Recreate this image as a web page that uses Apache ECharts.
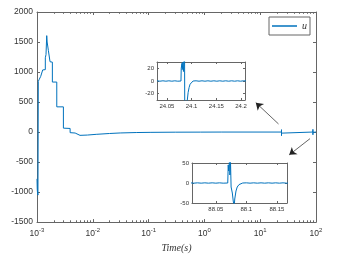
<!DOCTYPE html>
<html><head><meta charset="utf-8">
<script src="https://cdn.jsdelivr.net/npm/echarts@6/dist/echarts.min.js"></script>
<style>html,body{margin:0;padding:0;background:#fff}#c{width:343px;height:258px}</style>
</head><body><div id="c"></div>
<script>
// ---- data ----
const earlyT = [0.001, 0.00101, 0.00102, 0.00104, 0.001055, 0.00110, 0.001165, 0.00125, 0.001266, 0.00141, 0.00141, 0.00145, 0.001494, 0.00152, 0.001597, 0.00165, 0.001713, 0.001885, 0.001885, 0.002261, 0.002261, 0.002972, 0.002972, 0.003922, 0.003922, 0.004826, 0.005176, 0.0059];
const earlyU = [-780, -950, -1000, -1050, 845, 880, 927, 930, 1035, 1040, 1237, 1290, 1606, 1500, 1361, 1350, 1171, 1165, 833, 833, 420, 420, 65, 60, -10, -16, -44, -55];
const tailT = [0.008, 0.0115, 0.02, 0.031, 0.06, 0.11, 0.3, 0.86, 2, 24.0];
const tailU = [-50, -38, -24, -15, -8, -5, -2, -1, 0, 0];
const in1T = [24.030, 24.036, 24.042, 24.048, 24.054, 24.060, 24.066, 24.072, 24.0785, 24.079, 24.0805, 24.081, 24.0825, 24.0835, 24.085, 24.0857, 24.0862, 24.088, 24.091, 24.093, 24.095, 24.097, 24.100, 24.103, 24.109, 24.115, 24.121, 24.127, 24.133, 24.139, 24.145, 24.151, 24.157, 24.163, 24.169, 24.175, 24.181, 24.187, 24.193, 24.199, 24.205, 24.211];
const in1U = [0.3, -0.3, 0.3, -0.3, 0.3, -0.3, 0.3, -0.3, 0, 20, 28, 18, 30, 15, 40, 60, -60, -50, -32, -18, -10, -5, -2, 0, 0.3, -0.3, 0.3, -0.3, 0.3, -0.3, 0.3, -0.3, 0.3, -0.3, 0.3, -0.3, 0.3, -0.3, 0.3, -0.3, 0.3, 0];
const in2T = [88.008, 88.014, 88.020, 88.026, 88.032, 88.038, 88.044, 88.050, 88.056, 88.062, 88.0695, 88.0703, 88.071, 88.0725, 88.073, 88.074, 88.0745, 88.075, 88.077, 88.0785, 88.080, 88.081, 88.083, 88.085, 88.088, 88.091, 88.094, 88.100, 88.106, 88.112, 88.118, 88.124, 88.130, 88.136, 88.142, 88.148, 88.154, 88.160, 88.166, 88.170];
const in2U = [0.4, -0.4, 0.4, -0.4, 0.4, -0.4, 0.4, -0.4, 0.4, -0.4, 0, 45, 30, 60, 20, 55, 60, -10, -25, -45, -60, -40, -20, -10, -4, -1, 0, 0.4, -0.4, 0.4, -0.4, 0.4, -0.4, 0.4, -0.4, 0.4, -0.4, 0.4, -0.4, 0];
const endT = [100];
const endU = [0];

const mainXTickExps = [-3, -2, -1, 0, 1, 2];
const mainYTicks = [-1500, -1000, -500, 0, 500, 1000, 1500, 2000];
const in1XTicks = [24.05, 24.1, 24.15, 24.2];
const in1YTicks = [-20, 0, 20];
const in2XTicks = [88.05, 88.1, 88.15];
const in2YTicks = [-50, 0, 50];
// arrows [fromT, fromU, toT, toU]
const arrows = [[21.3, 135, 8.34, 490], [78, -110, 33.1, -380]];

// ---- build ----
function zip(t, u) { return t.map((v, i) => [v, u[i]]); }
const mainData = [].concat(zip(earlyT, earlyU), zip(tailT, tailU), zip(in1T, in1U), zip(in2T, in2U), zip(endT, endU));
const in1Data = zip(in1T, in1U);
const in2Data = zip(in2T, in2U);

const decades = mainXTickExps.map(e => Math.pow(10, e));
const minors = [];
for (let i = 0; i < mainXTickExps.length - 1; i++) {
  for (let k = 2; k <= 9; k++) minors.push(k * Math.pow(10, mainXTickExps[i]));
}

const AX = '#666';
const LBL = '#333';
const FONT = 'Liberation Sans, Arial, sans-serif';
const plain = v => String(v);

function xAx(o) {
  return Object.assign({
    splitLine: { show: false },
    axisLine: { onZero: false, lineStyle: { color: AX, width: 1 } },
    axisTick: { inside: true, length: 3, lineStyle: { color: AX, width: 1 } },
    axisLabel: { show: false }
  }, o);
}

const xAxis = [
  xAx({ type: 'log', gridIndex: 0, position: 'bottom', min: 0.001, max: 100,
    axisTick: { inside: true, length: 3, customValues: decades, lineStyle: { color: AX } },
    axisLabel: { show: true, customValues: decades, margin: 5, color: LBL,
      formatter: v => '{b|10}{s|' + Math.round(Math.log10(v)) + '}',
      rich: { b: { fontSize: 8.5, fontFamily: FONT, color: LBL }, s: { fontSize: 6, fontFamily: FONT, color: LBL, padding: [0, 0, 7, 0] } } },
    name: 'Time(s)', nameLocation: 'middle', nameGap: 19,
    nameTextStyle: { fontFamily: 'Liberation Serif', fontStyle: 'italic', fontSize: 10, color: LBL } }),
  xAx({ type: 'log', gridIndex: 0, position: 'bottom', min: 0.001, max: 100,
    axisLine: { show: false, onZero: false },
    axisTick: { inside: true, length: 1.8, customValues: minors, lineStyle: { color: AX } } }),
  xAx({ type: 'log', gridIndex: 0, position: 'top', min: 0.001, max: 100,
    axisTick: { inside: true, length: 3, customValues: decades, lineStyle: { color: AX } } }),
  xAx({ type: 'log', gridIndex: 0, position: 'top', min: 0.001, max: 100,
    axisLine: { show: false, onZero: false },
    axisTick: { inside: true, length: 1.8, customValues: minors, lineStyle: { color: AX } } }),
  // inset 1
  xAx({ type: 'value', gridIndex: 1, position: 'bottom', min: 24.03, max: 24.208,
    axisTick: { inside: true, length: 2, customValues: in1XTicks, lineStyle: { color: AX } },
    axisLabel: { show: true, customValues: in1XTicks, formatter: plain, margin: 3, fontSize: 6, fontFamily: FONT, color: LBL } }),
  xAx({ type: 'value', gridIndex: 1, position: 'top', min: 24.03, max: 24.208,
    axisTick: { inside: true, length: 2, customValues: in1XTicks, lineStyle: { color: AX } } }),
  // inset 2
  xAx({ type: 'value', gridIndex: 2, position: 'bottom', min: 88.011, max: 88.1665,
    axisTick: { inside: true, length: 2, customValues: in2XTicks, lineStyle: { color: AX } },
    axisLabel: { show: true, customValues: in2XTicks, formatter: plain, margin: 3, fontSize: 6, fontFamily: FONT, color: LBL } }),
  xAx({ type: 'value', gridIndex: 2, position: 'top', min: 88.011, max: 88.1665,
    axisTick: { inside: true, length: 2, customValues: in2XTicks, lineStyle: { color: AX } } })
];

const yAxis = [
  xAx({ type: 'value', gridIndex: 0, position: 'left', min: -1500, max: 2000, interval: 500,
    axisTick: { inside: true, length: 3, customValues: mainYTicks, lineStyle: { color: AX } },
    axisLabel: { show: true, customValues: mainYTicks, formatter: plain, margin: 4, fontSize: 8.5, fontFamily: FONT, color: LBL } }),
  xAx({ type: 'value', gridIndex: 0, position: 'right', min: -1500, max: 2000, interval: 500,
    axisTick: { inside: true, length: 3, customValues: mainYTicks, lineStyle: { color: AX } } }),
  xAx({ type: 'value', gridIndex: 1, position: 'left', min: -30, max: 30,
    axisTick: { inside: true, length: 2, customValues: in1YTicks, lineStyle: { color: AX } },
    axisLabel: { show: true, customValues: in1YTicks, formatter: plain, margin: 3, fontSize: 6, fontFamily: FONT, color: LBL } }),
  xAx({ type: 'value', gridIndex: 1, position: 'right', min: -30, max: 30,
    axisTick: { inside: true, length: 2, customValues: in1YTicks, lineStyle: { color: AX } } }),
  xAx({ type: 'value', gridIndex: 2, position: 'left', min: -50, max: 50,
    axisTick: { inside: true, length: 2, customValues: in2YTicks, lineStyle: { color: AX } },
    axisLabel: { show: true, customValues: in2YTicks, formatter: plain, margin: 3, fontSize: 6, fontFamily: FONT, color: LBL } }),
  xAx({ type: 'value', gridIndex: 2, position: 'right', min: -50, max: 50,
    axisTick: { inside: true, length: 2, customValues: in2YTicks, lineStyle: { color: AX } } })
];

const lineStyle = { color: '#0072BD', width: 1 };
const option = {
  animation: false,
  backgroundColor: '#fff',
  grid: [
    { left: 37, top: 12, width: 279, height: 214 },
    { left: 157, top: 62, width: 88, height: 38, show: true, backgroundColor: '#fff', borderWidth: 0 },
    { left: 192, top: 163, width: 95, height: 40, show: true, backgroundColor: '#fff', borderWidth: 0 }
  ],
  xAxis, yAxis,
  legend: {
    data: [{ name: 'u', icon: 'rect' }], right: 33, top: 17, borderColor: AX, borderWidth: 1, borderRadius: 0,
    padding: [4, 3, 4, 3], itemWidth: 25, itemHeight: 1.5, backgroundColor: '#fff',
    textStyle: { fontFamily: 'Liberation Serif', fontStyle: 'italic', fontSize: 10, color: LBL }
  },
  series: [
    { name: 'u', type: 'line', xAxisIndex: 0, yAxisIndex: 0, data: mainData, symbol: 'none', showSymbol: false,
      lineStyle, itemStyle: { color: '#0072BD' },
      markLine: { silent: true, symbol: ['none', 'arrow'], symbolSize: 7, label: { show: false },
        lineStyle: { color: '#222', width: 0.7, type: 'solid' },
        data: arrows.map(a => [{ coord: [a[0], a[1]] }, { coord: [a[2], a[3]] }]) } },
    { name: 'u1', type: 'line', xAxisIndex: 4, yAxisIndex: 2, data: in1Data, symbol: 'none', showSymbol: false, lineStyle, clip: true },
    { name: 'u2', type: 'line', xAxisIndex: 6, yAxisIndex: 4, data: in2Data, symbol: 'none', showSymbol: false, lineStyle, clip: true }
  ]
};
const chart = echarts.init(document.getElementById('c'), null, { renderer: 'canvas' });
chart.setOption(option);
</script></body></html>
